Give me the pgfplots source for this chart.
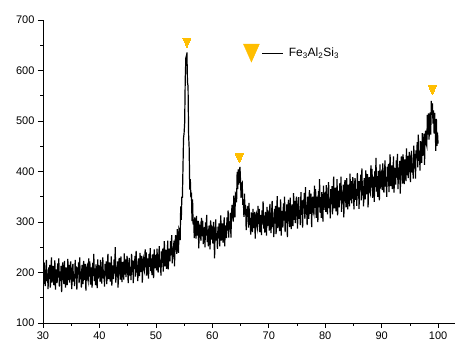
\documentclass[border=0pt]{standalone}
\usepackage{fontspec}
\setmainfont{Liberation Sans}
\usepackage{pgfplots}
\pgfplotsset{compat=1.18}
\definecolor{mk}{RGB}{255,190,0}
\begin{document}
\begin{tikzpicture}
\begin{axis}[
  scale only axis, width=412pt, height=303pt,
  xmin=30, xmax=103, ymin=100, ymax=700,
  axis x line*=bottom, axis y line*=left,
  axis line style={line width=0.8pt, black},
  xtick={30,40,...,100}, ytick={100,200,...,700},
  minor x tick num=1, minor y tick num=1,
  tick align=outside, major tick length=5pt, minor tick length=3pt,
  tick style={black, line width=0.7pt},
  ticklabel style={font=\fontsize{11}{13}\selectfont},
  /pgf/number format/assume math mode=true,
  legend style={draw=none, fill=none, inner sep=0pt, at={(axis cs:65.44,634.6)}, anchor=west, font=\fontsize{12}{14}\selectfont},
  legend cell align=left,
]
\addplot[black, line width=1.2pt, mark=none, forget plot] coordinates {
(30.0,207)(30.1,177)(30.2,220)(30.3,190)(30.4,173)(30.5,203)(30.6,225)(30.7,183)(30.8,198)(30.9,167)
(31.0,210)(31.1,187)(31.2,215)(31.3,170)(31.4,200)(31.5,230)(31.6,180)(31.7,192)(31.8,213)(31.9,175)
(32.0,186)(32.1,224)(32.2,166)(32.3,206)(32.4,198)(32.5,179)(32.6,218)(32.7,190)(32.8,228)(32.9,172)
(33.0,202)(33.1,183)(33.2,213)(33.3,161)(33.4,205)(33.5,220)(33.6,194)(33.7,177)(33.8,223)(33.9,187)
(34.0,170)(34.1,210)(34.2,200)(34.3,175)(34.4,227)(34.5,185)(34.6,215)(34.7,180)(34.8,203)(34.9,222)
(35.0,192)(35.1,167)(35.2,207)(35.3,217)(35.4,182)(35.5,197)(35.6,173)(35.7,225)(35.8,189)(35.9,212)
(36.0,166)(36.1,210)(36.2,196)(36.3,220)(36.4,179)(36.5,230)(36.6,187)(36.7,202)(36.8,170)(36.9,215)
(37.0,205)(37.1,177)(37.2,223)(37.3,185)(37.4,194)(37.5,217)(37.6,164)(37.7,207)(37.8,212)(37.9,189)
(38.0,183)(38.1,228)(38.2,192)(38.3,222)(38.4,176)(38.5,200)(38.6,210)(38.7,170)(38.8,219)(38.9,193)
(39.0,237)(39.1,183)(39.2,208)(39.3,175)(39.4,216)(39.5,197)(39.6,169)(39.7,226)(39.8,188)(39.9,213)
(40.0,212)(40.1,182)(40.2,225)(40.3,195)(40.4,178)(40.5,208)(40.6,230)(40.7,188)(40.8,203)(40.9,172)
(41.0,217)(41.1,194)(41.2,222)(41.3,177)(41.4,207)(41.5,237)(41.6,187)(41.7,199)(41.8,220)(41.9,182)
(42.0,194)(42.1,232)(42.2,174)(42.3,214)(42.4,206)(42.5,187)(42.6,226)(42.7,198)(42.8,250)(42.9,180)
(43.0,211)(43.1,192)(43.2,222)(43.3,170)(43.4,214)(43.5,229)(43.6,203)(43.7,186)(43.8,232)(43.9,196)
(44.0,181)(44.1,221)(44.2,211)(44.3,186)(44.4,238)(44.5,196)(44.6,226)(44.7,191)(44.8,214)(44.9,233)
(45.0,204)(45.1,179)(45.2,219)(45.3,229)(45.4,194)(45.5,209)(45.6,185)(45.7,237)(45.8,201)(45.9,224)
(46.0,179)(46.1,223)(46.2,209)(46.3,233)(46.4,192)(46.5,243)(46.6,200)(46.7,215)(46.8,183)(46.9,228)
(47.0,221)(47.1,193)(47.2,239)(47.3,201)(47.4,210)(47.5,233)(47.6,180)(47.7,223)(47.8,228)(47.9,205)
(48.0,201)(48.1,246)(48.2,210)(48.3,240)(48.4,194)(48.5,218)(48.6,228)(48.7,188)(48.8,237)(48.9,211)
(49.0,248)(49.1,203)(49.2,228)(49.3,195)(49.4,236)(49.5,217)(49.6,189)(49.7,246)(49.8,208)(49.9,233)
(50.0,234)(50.1,204)(50.2,247)(50.3,217)(50.4,200)(50.5,230)(50.6,252)(50.7,210)(50.8,225)(50.9,194)
(51.0,242)(51.1,219)(51.2,247)(51.3,202)(51.4,232)(51.5,262)(51.6,212)(51.7,224)(51.8,245)(51.9,207)
(52.0,224)(52.1,263)(52.2,206)(52.3,247)(52.4,240)(52.5,222)(52.6,262)(52.7,235)(52.8,274)(52.9,218)
(53.0,249)(53.1,231)(53.2,263)(53.3,212)(53.4,258)(53.5,274)(53.6,251)(53.7,237)(53.8,286)(53.9,253)
(54.0,239)(54.1,286)(54.2,282)(54.3,264)(54.4,331)(54.5,304)(54.6,349)(54.7,349)(54.8,407)(54.9,466)
(55.0,476)(55.1,496)(55.2,581)(55.3,621)(55.4,616)(55.5,636)(55.6,577)(55.7,569)(55.8,473)(55.9,446)
(56.0,364)(56.1,385)(56.2,349)(56.3,358)(56.4,302)(56.5,345)(56.6,295)(56.7,305)(56.8,268)(56.9,309)
(57.0,296)(57.1,267)(57.2,312)(57.3,273)(57.4,281)(57.5,302)(57.6,248)(57.7,290)(57.8,294)(57.9,271)
(58.0,263)(58.1,308)(58.2,272)(58.3,302)(58.4,256)(58.5,280)(58.6,290)(58.7,250)(58.8,299)(58.9,273)
(59.0,314)(59.1,260)(59.2,285)(59.3,252)(59.4,293)(59.5,274)(59.6,246)(59.7,303)(59.8,265)(59.9,290)
(60.0,287)(60.1,257)(60.2,300)(60.3,270)(60.4,228)(60.5,283)(60.6,305)(60.7,263)(60.8,278)(60.9,247)
(61.0,291)(61.1,268)(61.2,297)(61.3,252)(61.4,282)(61.5,313)(61.6,263)(61.7,275)(61.8,297)(61.9,259)
(62.0,270)(62.1,309)(62.2,252)(62.3,293)(62.4,286)(62.5,268)(62.6,309)(62.7,283)(62.8,323)(62.9,269)
(63.0,301)(63.1,285)(63.2,318)(63.3,269)(63.4,316)(63.5,334)(63.6,313)(63.7,301)(63.8,352)(63.9,321)
(64.0,309)(64.1,357)(64.2,355)(64.3,339)(64.4,399)(64.5,365)(64.6,404)(64.7,374)(64.8,402)(64.9,409)
(65.0,381)(65.1,348)(65.2,376)(65.3,378)(65.4,334)(65.5,341)(65.6,310)(65.7,356)(65.8,315)(65.9,334)
(66.0,284)(66.1,326)(66.2,310)(66.3,332)(66.4,289)(66.5,338)(66.6,294)(66.7,308)(66.8,275)(66.9,319)
(67.0,308)(67.1,280)(67.2,326)(67.3,288)(67.4,297)(67.5,320)(67.6,267)(67.7,310)(67.8,315)(67.9,293)
(68.0,287)(68.1,332)(68.2,296)(68.3,326)(68.4,280)(68.5,304)(68.6,314)(68.7,274)(68.8,323)(68.9,297)
(69.0,341)(69.1,287)(69.2,312)(69.3,279)(69.4,320)(69.5,301)(69.6,273)(69.7,330)(69.8,292)(69.9,317)
(70.0,320)(70.1,283)(70.2,336)(70.3,299)(70.4,278)(70.5,315)(70.6,342)(70.7,290)(70.8,309)(70.9,270)
(71.0,326)(71.1,297)(71.2,332)(71.3,276)(71.4,313)(71.5,351)(71.6,288)(71.7,303)(71.8,329)(71.9,282)
(72.0,298)(72.1,345)(72.2,273)(72.3,322)(72.4,312)(72.5,289)(72.6,337)(72.7,303)(72.8,350)(72.9,280)
(73.0,321)(73.1,298)(73.2,335)(73.3,270)(73.4,325)(73.5,344)(73.6,312)(73.7,290)(73.8,348)(73.9,303)
(74.0,286)(74.1,335)(74.2,323)(74.3,292)(74.4,357)(74.5,304)(74.6,342)(74.7,298)(74.8,327)(74.9,350)
(75.0,318)(75.1,287)(75.2,337)(75.3,349)(75.4,306)(75.5,324)(75.6,294)(75.7,359)(75.8,314)(75.9,343)
(76.0,289)(76.1,344)(76.2,327)(76.3,357)(76.4,306)(76.5,369)(76.6,316)(76.7,334)(76.8,294)(76.9,350)
(77.0,341)(77.1,306)(77.2,363)(77.3,316)(77.4,327)(77.5,356)(77.6,290)(77.7,343)(77.8,350)(77.9,321)
(78.0,316)(78.1,372)(78.2,328)(78.3,365)(78.4,308)(78.5,337)(78.6,350)(78.7,300)(78.8,361)(78.9,329)
(79.0,385)(79.1,318)(79.2,349)(79.3,308)(79.4,359)(79.5,336)(79.6,301)(79.7,372)(79.8,324)(79.9,355)
(80.0,357)(80.1,320)(80.2,373)(80.3,336)(80.4,315)(80.5,352)(80.6,379)(80.7,327)(80.8,346)(80.9,307)
(81.0,365)(81.1,336)(81.2,371)(81.3,315)(81.4,352)(81.5,390)(81.6,327)(81.7,342)(81.8,368)(81.9,321)
(82.0,338)(82.1,385)(82.2,313)(82.3,362)(82.4,352)(82.5,329)(82.6,377)(82.7,343)(82.8,390)(82.9,320)
(83.0,360)(83.1,337)(83.2,374)(83.3,309)(83.4,364)(83.5,383)(83.6,351)(83.7,329)(83.8,387)(83.9,342)
(84.0,325)(84.1,374)(84.2,362)(84.3,331)(84.4,396)(84.5,343)(84.6,381)(84.7,337)(84.8,366)(84.9,389)
(85.0,356)(85.1,325)(85.2,375)(85.3,387)(85.4,344)(85.5,362)(85.6,332)(85.7,397)(85.8,352)(85.9,381)
(86.0,326)(86.1,381)(86.2,364)(86.3,394)(86.4,343)(86.5,406)(86.6,353)(86.7,371)(86.8,331)(86.9,387)
(87.0,380)(87.1,345)(87.2,402)(87.3,355)(87.4,366)(87.5,395)(87.6,329)(87.7,382)(87.8,389)(87.9,360)
(88.0,356)(88.1,412)(88.2,368)(88.3,405)(88.4,348)(88.5,377)(88.6,390)(88.7,340)(88.8,401)(88.9,369)
(89.0,427)(89.1,360)(89.2,391)(89.3,350)(89.4,401)(89.5,378)(89.6,343)(89.7,414)(89.8,366)(89.9,397)
(90.0,400)(90.1,363)(90.2,416)(90.3,379)(90.4,358)(90.5,395)(90.6,422)(90.7,370)(90.8,389)(90.9,350)
(91.0,409)(91.1,380)(91.2,415)(91.3,359)(91.4,396)(91.5,434)(91.6,371)(91.7,386)(91.8,412)(91.9,365)
(92.0,383)(92.1,430)(92.2,358)(92.3,407)(92.4,397)(92.5,374)(92.6,422)(92.7,388)(92.8,435)(92.9,365)
(93.0,407)(93.1,384)(93.2,421)(93.3,356)(93.4,411)(93.5,430)(93.6,398)(93.7,376)(93.8,434)(93.9,389)
(94.0,375)(94.1,424)(94.2,412)(94.3,381)(94.4,446)(94.5,393)(94.6,431)(94.7,387)(94.8,416)(94.9,439)
(95.0,410)(95.1,379)(95.2,429)(95.3,441)(95.4,398)(95.5,416)(95.6,386)(95.7,451)(95.8,406)(95.9,435)
(96.0,386)(96.1,442)(96.2,426)(96.3,458)(96.4,408)(96.5,473)(96.6,421)(96.7,441)(96.8,402)(96.9,460)
(97.0,450)(97.1,417)(97.2,476)(97.3,431)(97.4,444)(97.5,475)(97.6,413)(97.7,470)(97.8,481)(97.9,456)
(98.0,451)(98.1,512)(98.2,473)(98.3,515)(98.4,463)(98.5,497)(98.6,517)(98.7,473)(98.8,540)(98.9,512)
(99.0,535)(99.1,495)(99.2,521)(99.3,475)(99.4,516)(99.5,483)(99.6,441)(99.7,504)(99.8,451)(99.9,477)
(100.0,455)
};
\addplot[mk, only marks, mark=triangle*, mark size=4.6pt,
  mark options={rotate=180, yscale=1.3, fill=mk, draw=mk, line width=0pt},
  legend image code/.code={
    \draw[black, line width=0.7pt] (11pt,0pt) -- (32pt,0pt);
    \fill[mk] (-8pt,9pt) -- (8pt,9pt) -- (0pt,-9pt) -- cycle;
  }] coordinates {(55.5,658) (64.8,429) (99.0,564)};
\addlegendentry{\hspace{3pt}Fe\textsubscript{3}Al\textsubscript{2}Si\textsubscript{3}}
\end{axis}
\pgfresetboundingbox
\path[use as bounding box] ([shift={(-43pt,-21pt)}]current axis.south west) rectangle ([shift={(1pt,20pt)}]current axis.north east);
\end{tikzpicture}
\end{document}
